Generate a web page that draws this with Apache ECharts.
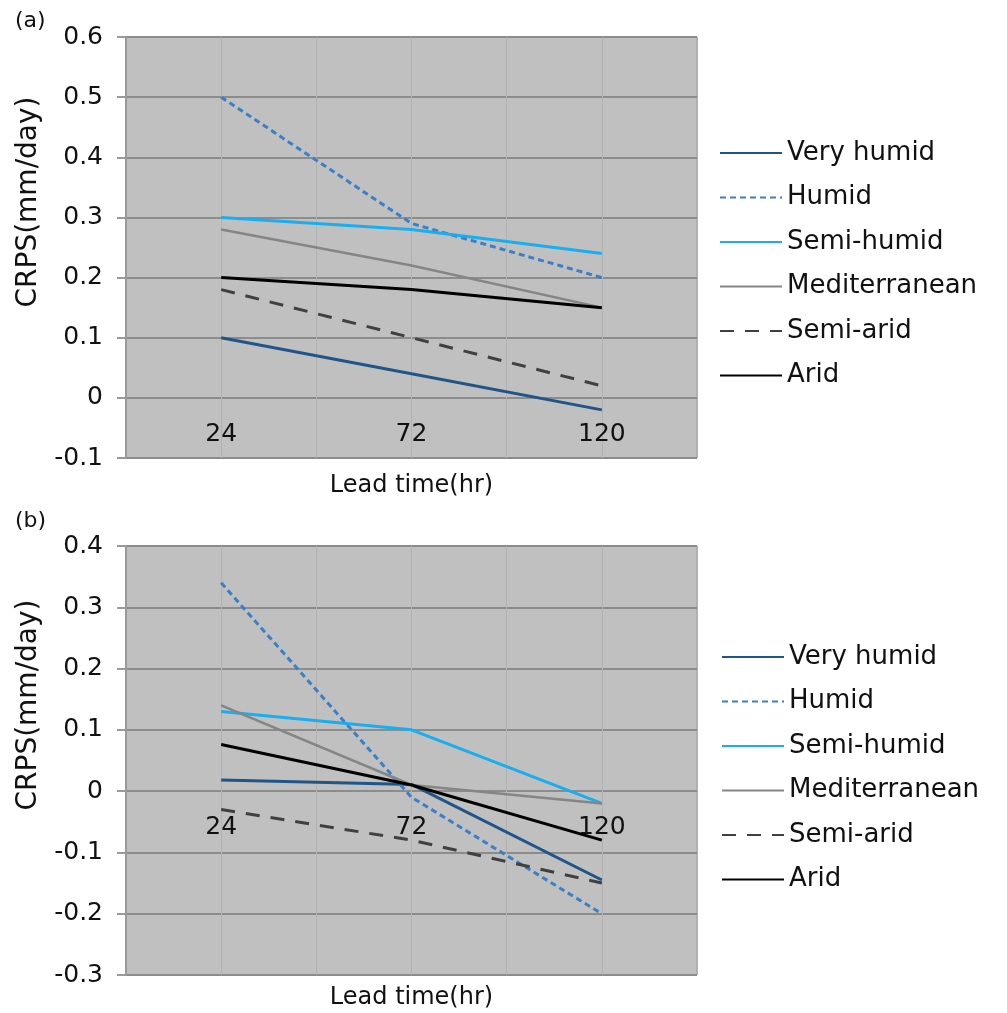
<!DOCTYPE html>
<html><head><meta charset="utf-8">
<script src="https://cdn.jsdelivr.net/npm/echarts@6/dist/echarts.min.js"></script>
<style>html,body{margin:0;padding:0;background:#fff}#c{width:1007px;height:1013px}</style>
</head><body><div id="c"></div>
<script>
// ---- data ----
const leadTimes = ['24', '72', '120'];
const seriesNames = ['Very humid', 'Humid', 'Semi-humid', 'Mediterranean', 'Semi-arid', 'Arid'];
// panel (a)
const veryHumidA    = [0.10, 0.04, -0.02];
const humidA        = [0.50, 0.29, 0.20];
const semiHumidA    = [0.30, 0.28, 0.24];
const mediterraneanA= [0.28, 0.22, 0.15];
const semiAridA     = [0.18, 0.10, 0.02];
const aridA         = [0.20, 0.18, 0.15];
// panel (b)
const veryHumidB    = [0.018, 0.011, -0.145];
const humidB        = [0.34, -0.01, -0.20];
const semiHumidB    = [0.13, 0.10, -0.02];
const mediterraneanB= [0.14, 0.01, -0.02];
const semiAridB     = [-0.03, -0.08, -0.15];
const aridB         = [0.076, 0.01, -0.08];
// axis ranges
const yRangeA = [-0.1, 0.6];
const yRangeB = [-0.3, 0.4];
const yStep = 0.1;
const panelLabels = ['(a)', '(b)'];
const xTitle = 'Lead time(hr)';
const yTitle = 'CRPS(mm/day)';

// ---- styles ----
const styles = [
  {color: '#1F5588', width: 3, type: 'solid'},
  {color: '#3A7FC8', width: 3, type: [6, 4]},
  {color: '#19AEEF', width: 3, type: 'solid'},
  {color: '#858585', width: 2.5, type: 'solid'},
  {color: '#404040', width: 3, type: [14, 11]},
  {color: '#000000', width: 3, type: 'solid'}
];
const FF = 'DejaVu Sans';
const dataA = [veryHumidA, humidA, semiHumidA, mediterraneanA, semiAridA, aridA];
const dataB = [veryHumidB, humidB, semiHumidB, mediterraneanB, semiAridB, aridB];

const gridBoxes = [
  {left: 126, top: 37, width: 571, height: 421},
  {left: 126, top: 546, width: 571, height: 429}
];
const grids = gridBoxes.map(g => Object.assign({}, g, {show: true, backgroundColor: '#C0C0C0', borderColor: '#A0A0A0', borderWidth: 1}));

// category axis placed on the value 0 line (as in the Excel original)
function catAxis(gi, range) {
  const h = gridBoxes[gi].height;
  const zeroOffset = -((0 - range[0]) / (range[1] - range[0])) * h;
  return {
    type: 'category', gridIndex: gi, data: leadTimes, boundaryGap: true,
    position: 'bottom', offset: zeroOffset,
    axisLine: {show: false, onZero: false},
    axisTick: {show: false},
    axisLabel: {fontSize: 25, margin: 24, color: '#111', fontFamily: FF},
    splitLine: {show: false}
  };
}
function gridXAxis(gi, gap) {
  return {
    type: 'value', gridIndex: gi, min: 0, max: 6, interval: 1, position: 'bottom',
    axisLine: {show: false, onZero: false}, axisTick: {show: false}, axisLabel: {show: false},
    splitLine: {show: true, lineStyle: {color: '#B2B2B2', width: 1}},
    name: xTitle, nameLocation: 'middle', nameGap: gap,
    nameTextStyle: {fontSize: 24, color: '#111', fontFamily: FF, verticalAlign: 'middle'}
  };
}
function yAxis(gi, range) {
  return {
    type: 'value', gridIndex: gi, min: range[0], max: range[1], interval: yStep,
    axisLine: {show: true, onZero: false, lineStyle: {color: '#9A9A9A', width: 2}},
    axisTick: {show: true, length: 9, lineStyle: {color: '#9A9A9A', width: 2}},
    axisLabel: {fontSize: 25, margin: 23, color: '#111', fontFamily: FF},
    splitLine: {show: true, lineStyle: {color: '#8C8C8C', width: 2}}
  };
}
function makeSeries(arrs, xi, yi) {
  return arrs.map((d, i) => ({
    name: seriesNames[i], type: 'line', xAxisIndex: xi, yAxisIndex: yi,
    data: d, symbol: 'none', silent: true,
    lineStyle: {color: styles[i].color, width: styles[i].width, type: styles[i].type},
    itemStyle: {color: styles[i].color}
  }));
}
function legend(left, top) {
  return {
    data: seriesNames, orient: 'vertical', left: left, top: top,
    itemWidth: 62, itemHeight: 2, itemGap: 14.5, selectedMode: false,
    itemStyle: {opacity: 0},
    textStyle: {fontSize: 26, color: '#111', fontFamily: FF, lineHeight: 30}
  };
}

const chart = echarts.init(document.getElementById('c'), null, {renderer: 'canvas'});
chart.setOption({
  animation: false,
  backgroundColor: '#fff',
  textStyle: {fontFamily: FF},
  grid: grids,
  xAxis: [catAxis(0, yRangeA), gridXAxis(0, 28), catAxis(1, yRangeB), gridXAxis(1, 23)],
  yAxis: [yAxis(0, yRangeA), yAxis(1, yRangeB)],
  legend: [legend(714, 133), legend(716, 637)],
  graphic: [
    {type: 'text', x: 29, y: 202, rotation: Math.PI / 2,
     style: {text: yTitle, font: '28px "DejaVu Sans"', fill: '#111', align: 'center', verticalAlign: 'middle'}},
    {type: 'text', x: 29, y: 705, rotation: Math.PI / 2,
     style: {text: yTitle, font: '28px "DejaVu Sans"', fill: '#111', align: 'center', verticalAlign: 'middle'}},
    {type: 'text', x: 15, y: 21,
     style: {text: panelLabels[0], font: '22px "DejaVu Sans"', fill: '#111', verticalAlign: 'middle'}},
    {type: 'text', x: 15, y: 521,
     style: {text: panelLabels[1], font: '22px "DejaVu Sans"', fill: '#111', verticalAlign: 'middle'}}
  ],
  series: makeSeries(dataA, 0, 0).concat(makeSeries(dataB, 2, 1))
});
</script></body></html>
